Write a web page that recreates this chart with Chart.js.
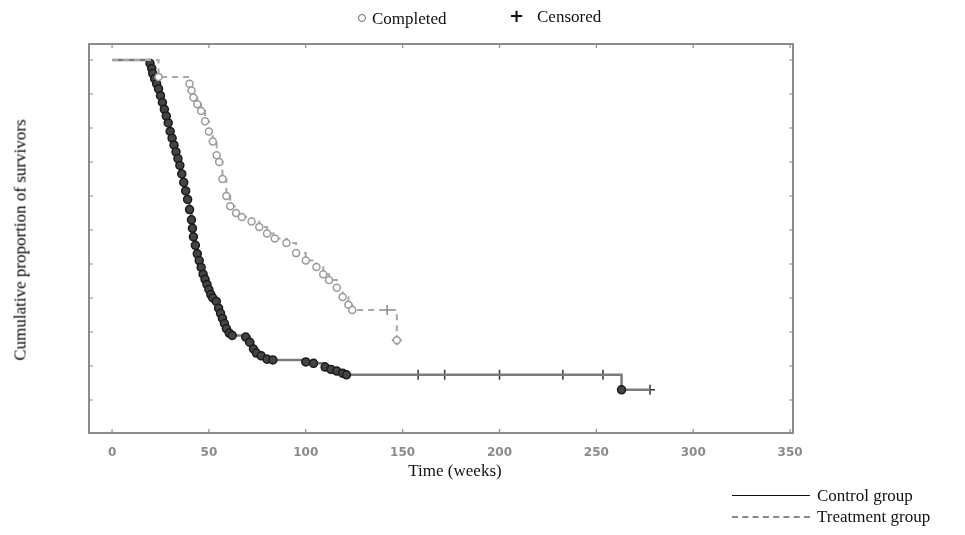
<!DOCTYPE html>
<html>
<head>
<meta charset="utf-8">
<script src="https://cdn.jsdelivr.net/npm/chart.js@4/dist/chart.umd.min.js"></script>
<style>
  body { margin: 0; background: #fff; }
  #wrap { position: relative; width: 965px; height: 535px; font-family: "Liberation Serif", "DejaVu Serif", serif; color: #111; }
  #wrap canvas { position: absolute; left: 0; top: 0; }
  .txt { position: absolute; white-space: nowrap; font-size: 17px; line-height: 1; }
</style>
</head>
<body>
<div id="wrap">
  <canvas id="km" width="965" height="535"></canvas>

  <!-- top legend -->
  <span style="position:absolute;left:358px;top:14px;width:6px;height:6px;border:1.5px solid #666;border-radius:50%"></span>
  <div class="txt" style="left:372px;top:10px">Completed</div>
  <div class="txt" style="left:509px;top:7px;font-family:'DejaVu Sans';font-size:18px;font-weight:bold">+</div>
  <div class="txt" style="left:537px;top:8px">Censored</div>

  <!-- axis titles -->
  <div class="txt" style="left:20px;top:240px;color:#000;transform:translate(-50%,-50%) rotate(-90deg)">Cumulative proportion of survivors</div>
  <div class="txt" style="left:455px;top:470px;transform:translate(-50%,-50%)">Time (weeks)</div>

  <!-- bottom legend -->
  <div style="position:absolute;left:732px;top:495px;width:78px;border-top:1.5px solid #111"></div>
  <div class="txt" style="left:817px;top:487px">Control group</div>
  <div style="position:absolute;left:732px;top:516px;width:78px;border-top:2px dashed #888"></div>
  <div class="txt" style="left:817px;top:508px">Treatment group</div>
</div>

<script>
// ── Data ──────────────────────────────────────────────
const xTicks = [0, 50, 100, 150, 200, 250, 300, 350];
const yTicks = [0, 0.1, 0.2, 0.3, 0.4, 0.5, 0.6, 0.7, 0.8, 0.9, 1.0];

// Control group: Kaplan-Meier steps (weeks, proportion surviving)
const ctrlTime = [0, 19.6, 20.5, 21, 22, 23, 24, 25, 26, 27, 28, 29, 30, 31, 32, 33, 34, 35, 36, 37, 38, 39, 40, 41,
  41.5, 42, 43, 44, 45, 46, 47, 48, 49, 50, 51, 52, 53.8, 55, 56, 57, 58, 59, 60.5, 62, 69, 71, 73, 74.5, 77, 80,
  83, 100, 104, 110, 113, 116, 119, 121, 263, 277.7];
const ctrlSurv = [1.0, 0.99, 0.975, 0.96, 0.945, 0.93, 0.915, 0.895, 0.875, 0.855, 0.835, 0.815, 0.79, 0.77, 0.75, 0.73,
  0.71, 0.69, 0.665, 0.64, 0.615, 0.59, 0.56, 0.53, 0.505, 0.48, 0.455, 0.43, 0.41, 0.39, 0.37, 0.355, 0.34, 0.325,
  0.31, 0.30, 0.29, 0.27, 0.255, 0.24, 0.225, 0.21, 0.197, 0.19, 0.185, 0.17, 0.15, 0.138, 0.13, 0.12, 0.118, 0.112,
  0.108, 0.097, 0.09, 0.085, 0.079, 0.074, 0.03, 0.03];
const ctrlCensTime = [158, 171.7, 200, 232.7, 253.4, 277.7];
const ctrlCensSurv = [0.074, 0.074, 0.074, 0.074, 0.074, 0.03];

// Treatment group
const trtTime = [0, 24, 40, 41, 42, 44, 46, 48, 50, 52, 54, 55.3, 57, 59, 61, 64, 67, 72, 76, 80, 84, 90, 95, 100,
  105.5, 109, 112, 116, 119, 122, 124, 147];
const trtSurv = [1.0, 0.95, 0.93, 0.91, 0.89, 0.87, 0.85, 0.82, 0.79, 0.76, 0.72, 0.70, 0.65, 0.60, 0.57, 0.55, 0.538,
  0.525, 0.509, 0.49, 0.475, 0.462, 0.432, 0.41, 0.391, 0.37, 0.353, 0.33, 0.303, 0.28, 0.265, 0.176];
const trtCensTime = [142, 147];
const trtCensSurv = [0.265, 0.176];

const pts = (xs, ys) => xs.map((x, i) => ({ x, y: ys[i] }));

// ── Frame, inward ticks, x labels ─────────────────────
const framePlugin = {
  id: 'frame',
  afterDraw(chart) {
    const { ctx, chartArea: a, scales: { x, y } } = chart;
    ctx.save();
    ctx.strokeStyle = '#8c8c8c';
    ctx.lineWidth = 2;
    ctx.strokeRect(a.left, a.top, a.right - a.left, a.bottom - a.top);
    ctx.lineWidth = 1.2;
    ctx.beginPath();
    yTicks.forEach(v => {
      const py = y.getPixelForValue(v);
      ctx.moveTo(a.left, py); ctx.lineTo(a.left + 4, py);
      ctx.moveTo(a.right, py); ctx.lineTo(a.right - 4, py);
    });
    xTicks.forEach(v => {
      const px = x.getPixelForValue(v);
      ctx.moveTo(px, a.bottom); ctx.lineTo(px, a.bottom - 4);
      ctx.moveTo(px, a.top); ctx.lineTo(px, a.top + 4);
    });
    ctx.stroke();

    ctx.fillStyle = '#8a8a8a';
    ctx.font = 'bold 12px "DejaVu Sans"';
    ctx.textAlign = 'center';
    ctx.textBaseline = 'middle';
    xTicks.forEach(v => ctx.fillText(String(v), x.getPixelForValue(v), a.bottom + 20));
    ctx.restore();
  },
};

const ctrlData = pts(ctrlTime, ctrlSurv);
const trtData = pts(trtTime, trtSurv);

new Chart(document.getElementById('km'), {
  type: 'scatter',
  data: {
    datasets: [
      {
        label: 'Treatment group',
        data: trtData,
        showLine: true,
        stepped: 'before',
        borderColor: '#a8a8a8',
        borderWidth: 2,
        borderDash: [6, 5],
        pointStyle: 'circle',
        pointRadius: c => (c.dataIndex === 0 ? 0 : 3.5),
        pointBorderColor: '#9a9a9a',
        pointBackgroundColor: '#fff',
        pointBorderWidth: 1.5,
      },
      {
        label: 'Treatment censored',
        data: pts(trtCensTime, trtCensSurv),
        pointStyle: 'cross',
        pointRadius: 5,
        pointBorderColor: '#888',
        pointBorderWidth: 1.5,
      },
      {
        label: 'Control group',
        data: ctrlData,
        showLine: true,
        stepped: 'before',
        borderColor: '#7a7a7a',
        borderWidth: 2.5,
        pointStyle: 'circle',
        pointRadius: c => (c.dataIndex === 0 || c.dataIndex === ctrlData.length - 1 ? 0 : 4),
        pointBorderColor: '#1a1a1a',
        pointBackgroundColor: '#444',
        pointBorderWidth: 1.5,
      },
      {
        label: 'Control censored',
        data: pts(ctrlCensTime, ctrlCensSurv),
        pointStyle: 'cross',
        pointRadius: 5,
        pointBorderColor: '#333',
        pointBorderWidth: 1.5,
      },
    ],
  },
  options: {
    responsive: false,
    animation: false,
    layout: { padding: { left: 89, top: 44, right: 172, bottom: 102 } },
    plugins: { legend: { display: false }, tooltip: { enabled: false } },
    scales: {
      x: {
        type: 'linear',
        min: -11.9,
        max: 351.5,
        grid: { display: false },
        border: { display: false },
        ticks: { display: false },
        afterFit: s => { s.height = 0; },
      },
      y: {
        min: -0.097,
        max: 1.047,
        grid: { display: false },
        border: { display: false },
        ticks: { display: false },
        afterFit: s => { s.width = 0; },
      },
    },
  },
  plugins: [framePlugin],
});
</script>
</body>
</html>
